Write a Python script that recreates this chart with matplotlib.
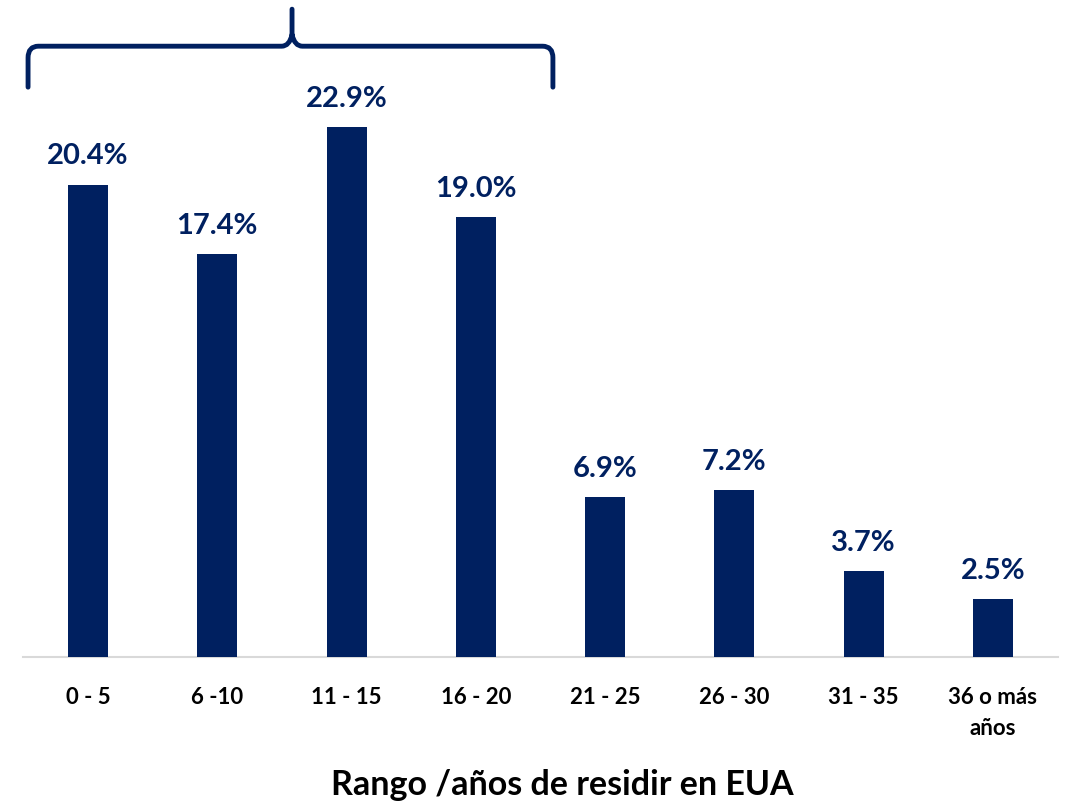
import matplotlib
matplotlib.use("Agg")
import matplotlib.pyplot as plt
from matplotlib.path import Path
from matplotlib.patches import PathPatch

categories = ["0 - 5", "6 -10", "11 - 15", "16 - 20", "21 - 25", "26 - 30", "31 - 35", "36 o más\naños"]
values = [20.4, 17.4, 22.9, 19.0, 6.9, 7.2, 3.7, 2.5]
xlabel = "Rango /años de residir en EUA"

navy = "#002060"
plt.rcParams['font.family'] = ['Lato', 'DejaVu Sans']

fig = plt.figure(figsize=(10.68, 8.03), dpi=100)
ax = fig.add_axes([23.4 / 1068, 1 - 658 / 803, (1057.6 - 23.4) / 1068, 658 / 803])
x = list(range(len(categories)))
ax.bar(x, values, width=0.31, color=navy, zorder=3)
ax.set_xlim(-0.5, len(categories) - 0.5)
ax.set_ylim(0, 28.44)
for xi, v in zip(x, values):
    ax.text(xi, v + 0.72, f"{v:.1f}%", ha="center", va="bottom", fontsize=21,
            fontweight="bold", color=navy)

for s in ["top", "right", "left"]:
    ax.spines[s].set_visible(False)
ax.spines["bottom"].set_color("#D9D9D9")
ax.spines["bottom"].set_linewidth(1.5)
ax.set_yticks([])
ax.set_xticks(x)
ax.set_xticklabels(categories, fontsize=16, fontweight="bold", color="black", linespacing=1.55)
ax.tick_params(axis="x", length=0, pad=21)
ax.set_xlabel(xlabel, fontsize=24.5, fontweight="bold", va="center")
ax.xaxis.set_label_coords(0.521, -0.193)

# curly brace over first four categories
x0, x1, xm = -0.464, 3.596, 1.578
yb, yh, yt = 24.63, 26.4, 28.0
r = 0.08
verts = [
    (x0, yb), (x0, yh - 0.5), (x0, yh), (x0 + r, yh),
    (xm - r, yh), (xm - 0.02, yh), (xm, yh + 0.5),
    (xm, yt),
    (xm, yh + 0.5), (xm + 0.02, yh), (xm + r, yh),
    (x1 - r, yh), (x1, yh), (x1, yh - 0.5),
    (x1, yb),
]
codes = [Path.MOVETO, Path.LINETO, Path.CURVE3, Path.CURVE3,
         Path.LINETO, Path.CURVE3, Path.CURVE3,
         Path.LINETO,
         Path.MOVETO, Path.CURVE3, Path.CURVE3,
         Path.LINETO, Path.CURVE3, Path.CURVE3,
         Path.LINETO]
brace = PathPatch(Path(verts, codes), facecolor="none", edgecolor=navy, lw=3.5,
                  capstyle="round", joinstyle="round", clip_on=False)
ax.add_patch(brace)

fig.savefig("out.png", dpi=100)
